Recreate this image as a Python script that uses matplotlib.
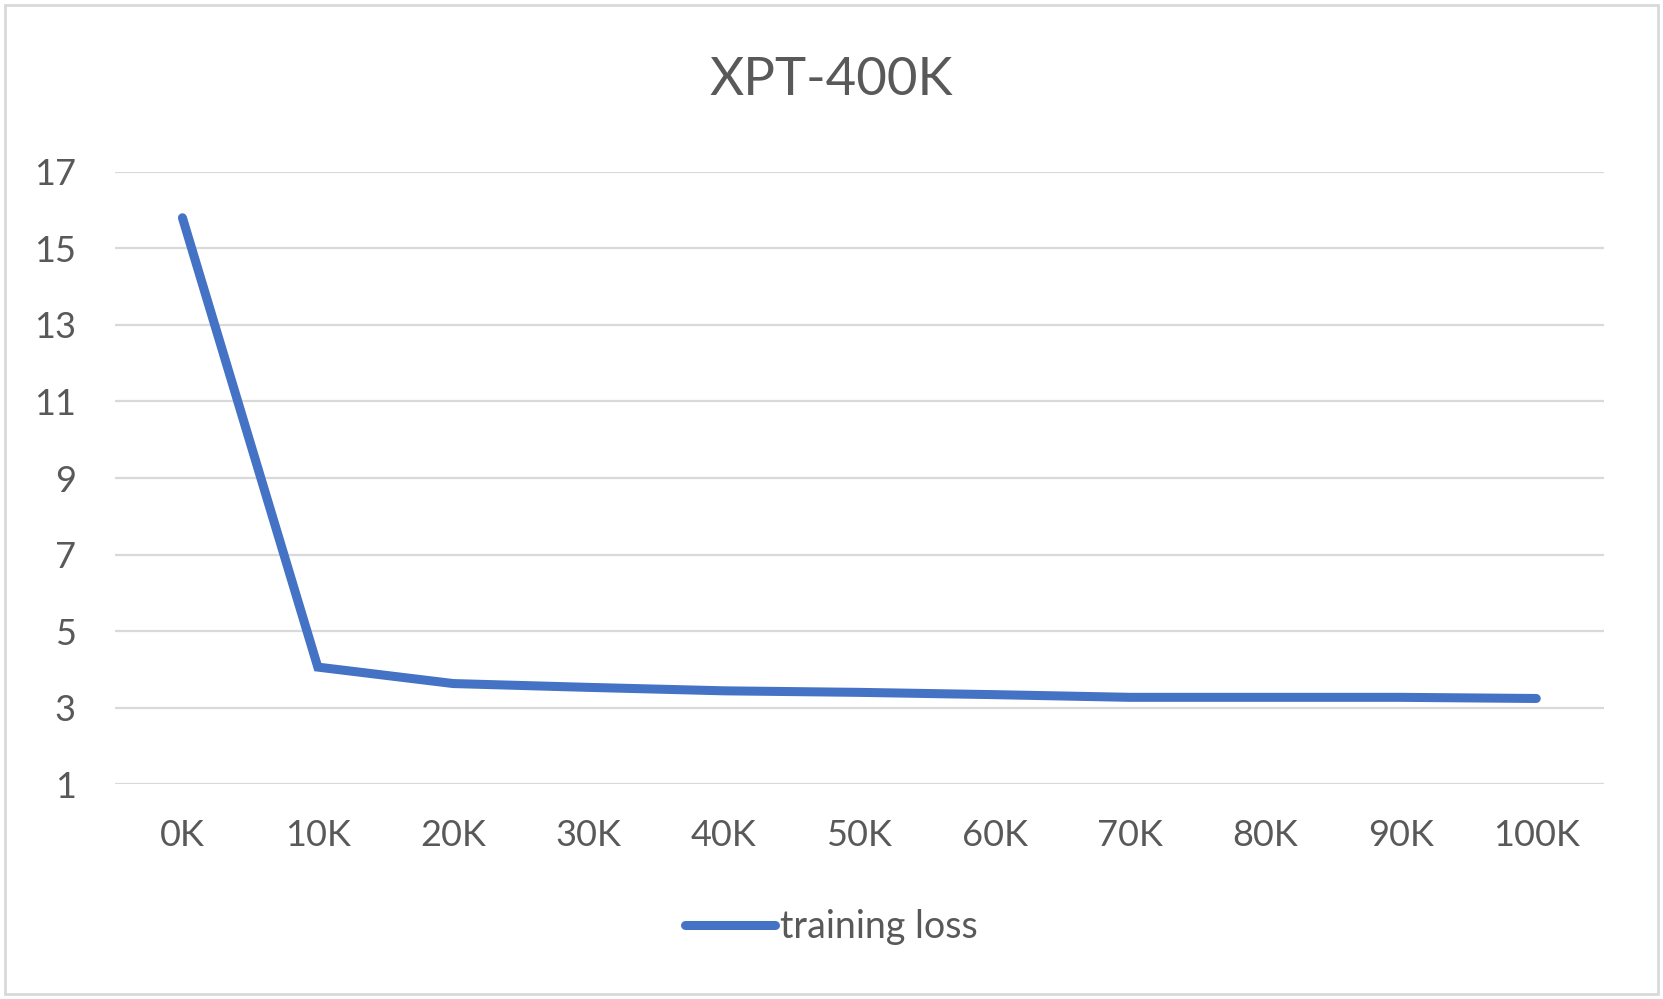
import matplotlib
matplotlib.use("Agg")
import matplotlib.pyplot as plt
from matplotlib.patches import Rectangle

# data
steps = ["0K", "10K", "20K", "30K", "40K", "50K", "60K", "70K", "80K", "90K", "100K"]
loss = [15.8, 4.06, 3.63, 3.53, 3.44, 3.40, 3.34, 3.27, 3.27, 3.27, 3.24]
y_ticks = [1, 3, 5, 7, 9, 11, 13, 15, 17]

title = "XPT-400K"
series_name = "training loss"

line_color = "#4472C4"
text_color = "#595959"
grid_color = "#D9D9D9"

plt.rcParams["font.family"] = ["Lato", "DejaVu Sans"]

fig = plt.figure(figsize=(16.63, 9.99), dpi=100)
ax = fig.add_axes([0.069, 0.215, 0.8955, 0.613])

x = list(range(len(steps)))
ax.plot(x, loss, color=line_color, linewidth=6.5, solid_capstyle="round",
        solid_joinstyle="miter", label=series_name, zorder=3)

ax.set_xlim(-0.5, len(steps) - 0.5)
ax.set_ylim(1, 17)
ax.set_xticks(x)
ax.set_xticklabels(steps)
ax.set_yticks(y_ticks)
ax.yaxis.grid(True, color=grid_color, linewidth=1.6)
ax.set_axisbelow(True)
for s in ax.spines.values():
    s.set_visible(False)
ax.tick_params(axis="both", length=0, labelsize=26, labelcolor=text_color)
ax.tick_params(axis="x", pad=25)
ax.tick_params(axis="y", pad=28)

fig.text(0.500, 0.919, title, ha="center", va="center", fontsize=38, color=text_color)

leg = fig.legend(loc="center", bbox_to_anchor=(0.5, 0.072), frameon=False,
                 fontsize=27, handlelength=2.4, handletextpad=0.15)
for t in leg.get_texts():
    t.set_color(text_color)

# light border around the whole chart
fig.patches.append(Rectangle((0.003, 0.005), 0.994, 0.99, transform=fig.transFigure,
                             fill=False, edgecolor=grid_color, linewidth=2))

fig.savefig("out.png", dpi=100)
